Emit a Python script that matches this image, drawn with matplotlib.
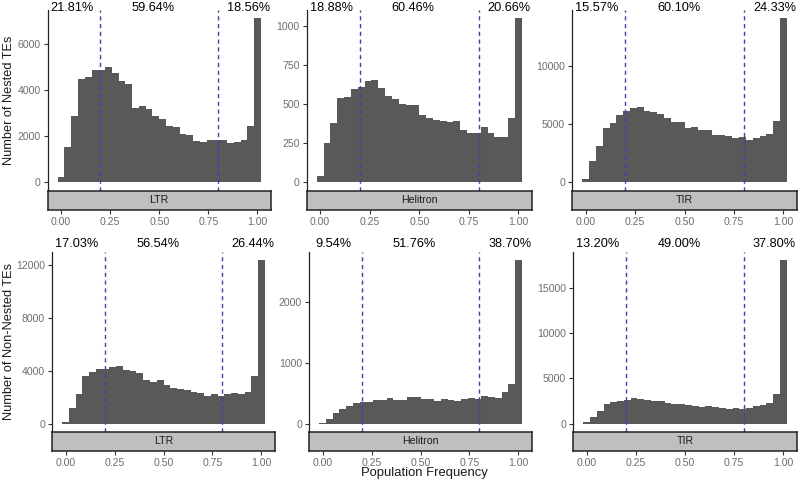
import numpy as np
import matplotlib
matplotlib.use("Agg")
import matplotlib.pyplot as plt
from matplotlib.ticker import FixedLocator, FormatStrFormatter
import matplotlib.transforms as mtransforms

plt.rcParams["font.family"] = ["Liberation Sans", "DejaVu Sans"]

# 30 histogram bins over population frequency (ggplot default bins)
N_BINS = 30
bin_width = 1 / (N_BINS - 1)
bin_edges = (np.arange(N_BINS + 1) - 0.5) * bin_width

# counts per bin
ltr_nested = [220, 1520, 2860, 4470, 4570, 4870, 4870, 5000, 4730, 4380,
              4280, 3220, 3290, 3190, 2880, 2750, 2460, 2400, 2080, 2040,
              1810, 1750, 1820, 1840, 1820, 1720, 1760, 1860, 2430, 7110]
helitron_nested = [43, 249, 381, 536, 543, 598, 611, 647, 653, 602,
                   551, 530, 500, 494, 494, 430, 413, 400, 394, 385,
                   391, 336, 315, 317, 351, 315, 291, 287, 409, 1047]
tir_nested = [290, 1860, 3110, 4690, 5060, 5800, 6110, 6340, 6460, 6110,
              6000, 5860, 5510, 5200, 5170, 4690, 4740, 4510, 4510, 4090,
              4090, 4000, 3770, 3860, 3600, 3830, 4000, 4110, 5290, 14060]
ltr_non_nested = [130, 1160, 2210, 3570, 3890, 4100, 4100, 4270, 4370, 4050,
                  3970, 3840, 3270, 3140, 3270, 2890, 2710, 2640, 2560, 2390,
                  2340, 2090, 2240, 2110, 2210, 2290, 2260, 2410, 3570, 12360]
helitron_non_nested = [11, 77, 169, 235, 284, 344, 361, 361, 393, 383,
                       415, 388, 388, 432, 432, 399, 410, 377, 410, 393,
                       372, 399, 415, 399, 448, 437, 426, 514, 645, 2690]
tir_non_nested = [150, 735, 1360, 2130, 2350, 2500, 2540, 2760, 2680, 2570,
                  2500, 2430, 2240, 2170, 2130, 2060, 1950, 1800, 1910, 1800,
                  1760, 1620, 1760, 1650, 1730, 1880, 2020, 2210, 3240, 18050]

te_types = ["LTR", "Helitron", "TIR"]
row_labels = ["Number of Nested TEs", "Number of Non-Nested TEs"]
counts = [[ltr_nested, helitron_nested, tir_nested],
          [ltr_non_nested, helitron_non_nested, tir_non_nested]]
pct_labels = [[["21.81%", "59.64%", "18.56%"],
               ["18.88%", "60.46%", "20.66%"],
               ["15.57%", "60.10%", "24.33%"]],
              [["17.03%", "56.54%", "26.44%"],
               ["9.54%", "51.76%", "38.70%"],
               ["13.20%", "49.00%", "37.80%"]]]
y_ticks = [[[0, 2000, 4000, 6000], [0, 250, 500, 750, 1000], [0, 5000, 10000]],
           [[0, 4000, 8000, 12000], [0, 1000, 2000], [0, 5000, 10000, 15000]]]
x_ticks = [0.0, 0.25, 0.5, 0.75, 1.0]
cutoffs = [0.2, 0.8]
pct_x = [0.055, 0.47, 0.955]

W, H = 800, 484
# panel extents in pixels: (left, right) per column, (top, bottom) per row
col_px = [[(47.5, 271), (306.5, 532), (572, 797)],
          [(52, 275), (309, 532), (573, 797)]]
row_px = [(10, 190.7), (251.7, 431.7)]
strip_h = 19
label_base = [0.996, 1.028]

BAR = "#595959"
GRAY_TXT = "#6e6e6e"

fig = plt.figure(figsize=(W / 100, H / 100), dpi=100)

xlo, xhi = bin_edges[0], bin_edges[-1]
xpad = 0.05 * (xhi - xlo)

for r in range(2):
    top, bot = row_px[r]
    for c in range(3):
        left, right = col_px[r][c]
        ax = fig.add_axes([left / W, 1 - bot / H, (right - left) / W, (bot - top) / H])
        vals = counts[r][c]
        ax.stairs(vals, bin_edges, fill=True, color=BAR, linewidth=0)
        ymax = max(vals)
        ax.set_ylim(-0.05 * ymax, 1.05 * ymax)
        ax.set_xlim(xlo - xpad, xhi + xpad)
        for cx in cutoffs:
            ax.axvline(cx, color="#3c3cd2", linestyle=(0, (3, 2.6)), linewidth=1.0)
        for sp in ["top", "right", "bottom"]:
            ax.spines[sp].set_visible(False)
        ax.spines["left"].set_color("#222222")
        ax.spines["left"].set_linewidth(0.9)
        ax.set_xticks([])
        ax.yaxis.set_major_locator(FixedLocator(y_ticks[r][c]))
        ax.tick_params(axis="y", length=3, width=0.8, color="#333333",
                       labelsize=7.6, labelcolor=GRAY_TXT, pad=2)

        trans = mtransforms.blended_transform_factory(ax.transData, ax.transAxes)
        for px, txt in zip(pct_x, pct_labels[r][c]):
            ax.text(px, label_base[r], txt, transform=trans, ha="center",
                    va="baseline", fontsize=9.2, color="black", clip_on=False)

        if c == 0:
            ax.set_ylabel(row_labels[r], fontsize=9.2, color="#1a1a1a", va="center")
            ax.yaxis.set_label_coords((9 - left) / (right - left), 0.5)

        # facet strip under the panel, carrying the x axis
        sax = fig.add_axes([left / W, 1 - (bot + strip_h) / H,
                            (right - left) / W, strip_h / H])
        sax.set_facecolor("#bfbfbf")
        sax.set_xlim(ax.get_xlim())
        sax.set_ylim(0, 1)
        sax.set_yticks([])
        sax.xaxis.set_major_locator(FixedLocator(x_ticks))
        sax.xaxis.set_major_formatter(FormatStrFormatter("%.2f"))
        sax.tick_params(axis="x", length=3, width=0.8, color="#333333",
                        labelsize=7.6, labelcolor=GRAY_TXT, pad=2)
        for sp in sax.spines.values():
            sp.set_color("#222222")
            sp.set_linewidth(1.1)
        sax.text(0.5, 0.5, te_types[c], transform=sax.transAxes, ha="center",
                 va="center", fontsize=7.6, color="#1a1a1a")

fig.text(424 / W, 1 - 473 / H, "Population Frequency", ha="center", va="center",
         fontsize=9.4, color="#1a1a1a")

fig.savefig("out.png", dpi=100)
